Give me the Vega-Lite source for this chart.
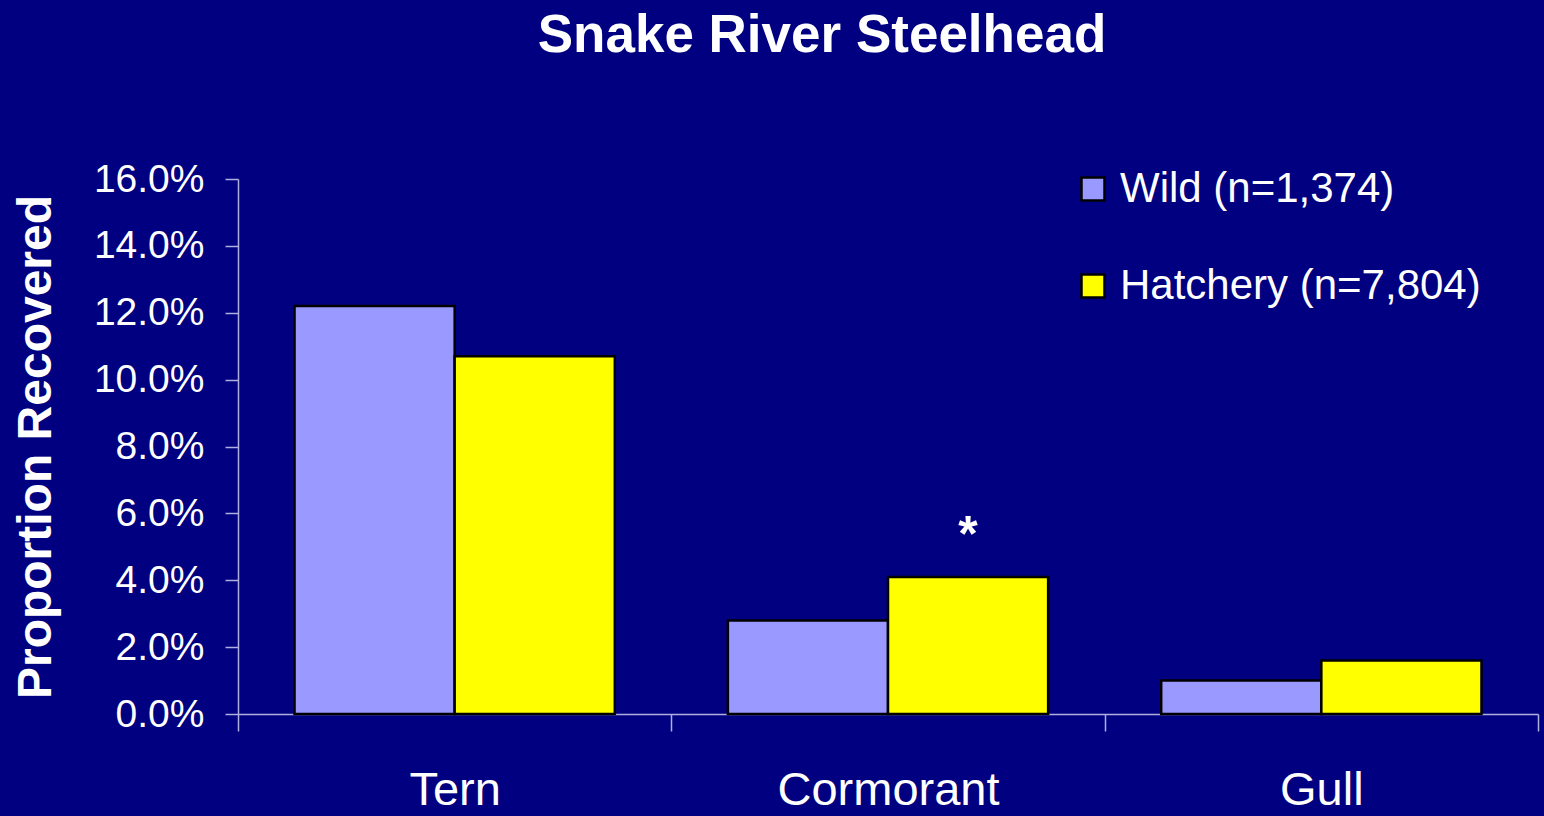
{
  "$schema": "https://vega.github.io/schema/vega-lite/v6.json",
  "autosize": {"type": "none"},
  "width": 1300,
  "height": 535,
  "padding": {"left": 238, "top": 179, "right": 6, "bottom": 102},
  "background": "#000080",
  "title": {
    "text": "Snake River Steelhead",
    "font": "Liberation Sans",
    "fontSize": 53,
    "fontWeight": "bold",
    "color": "white",
    "anchor": "middle",
    "frame": "group",
    "baseline": "alphabetic",
    "dx": -66,
    "offset": 55
  },
  "data": {
    "values": [
      {"predator": "Tern", "group": "Wild (n=1,374)", "value": 0.122, "note": ""},
      {"predator": "Tern", "group": "Hatchery (n=7,804)", "value": 0.107, "note": ""},
      {"predator": "Cormorant", "group": "Wild (n=1,374)", "value": 0.028, "note": ""},
      {"predator": "Cormorant", "group": "Hatchery (n=7,804)", "value": 0.041, "note": "*"},
      {"predator": "Gull", "group": "Wild (n=1,374)", "value": 0.010, "note": ""},
      {"predator": "Gull", "group": "Hatchery (n=7,804)", "value": 0.016, "note": ""}
    ]
  },
  "encoding": {
    "x": {
      "field": "predator",
      "type": "nominal",
      "sort": ["Tern", "Cormorant", "Gull"],
      "scale": {"paddingInner": 0, "paddingOuter": 0},
      "axis": {
        "title": null,
        "labelAngle": 0,
        "labelLimit": 600,
        "tickBand": "extent",
        "tickSize": 17,
        "tickColor": "#B0B0E0",
        "tickWidth": 1.5,
        "domainColor": "#B0B0E0",
        "domainWidth": 1.5,
        "labelFont": "Liberation Sans",
        "labelFontSize": 47,
        "labelColor": "white",
        "labelPadding": 36
      }
    },
    "xOffset": {
      "field": "group",
      "type": "nominal",
      "sort": ["Wild (n=1,374)", "Hatchery (n=7,804)"],
      "scale": {"paddingInner": 0, "paddingOuter": 0.353}
    },
    "y": {
      "field": "value",
      "type": "quantitative",
      "scale": {"domain": [0, 0.16], "nice": false},
      "axis": {
        "values": [0, 0.02, 0.04, 0.06, 0.08, 0.1, 0.12, 0.14, 0.16],
        "format": ".1%",
        "grid": false,
        "tickSize": 13,
        "tickColor": "#B0B0E0",
        "tickWidth": 1.5,
        "domainColor": "#B0B0E0",
        "domainWidth": 1.5,
        "labelFont": "Liberation Sans",
        "labelFontSize": 39,
        "labelColor": "white",
        "labelPadding": 21,
        "title": "Proportion Recovered",
        "titleFont": "Liberation Sans",
        "titleFontSize": 48,
        "titleFontWeight": "bold",
        "titleColor": "white",
        "titleAngle": -90,
        "titleAlign": "center",
        "titleBaseline": "alphabetic",
        "titleX": -188,
        "titleY": 267.5
      }
    }
  },
  "layer": [
    {
      "mark": {"type": "bar", "stroke": "black", "strokeWidth": 2.5},
      "encoding": {
        "color": {
          "field": "group",
          "type": "nominal",
          "sort": ["Wild (n=1,374)", "Hatchery (n=7,804)"],
          "scale": {
            "domain": ["Wild (n=1,374)", "Hatchery (n=7,804)"],
            "range": ["#9999FF", "#FFFF00"]
          },
          "legend": {
            "orient": "none",
            "legendX": 834,
            "legendY": -11,
            "title": null,
            "symbolType": "square",
            "symbolSize": 530,
            "symbolStrokeColor": "black",
            "symbolStrokeWidth": 2.5,
            "symbolOpacity": 1,
            "labelFont": "Liberation Sans",
            "labelFontSize": 42,
            "labelColor": "white",
            "labelOffset": 6,
            "labelLimit": 500,
            "rowPadding": 55
          }
        }
      }
    },
    {
      "mark": {
        "type": "text",
        "font": "Liberation Sans",
        "fontSize": 50,
        "fontWeight": "bold",
        "color": "white",
        "baseline": "alphabetic",
        "dy": -26
      },
      "encoding": {"text": {"field": "note"}}
    }
  ],
  "config": {"view": {"stroke": null}}
}
